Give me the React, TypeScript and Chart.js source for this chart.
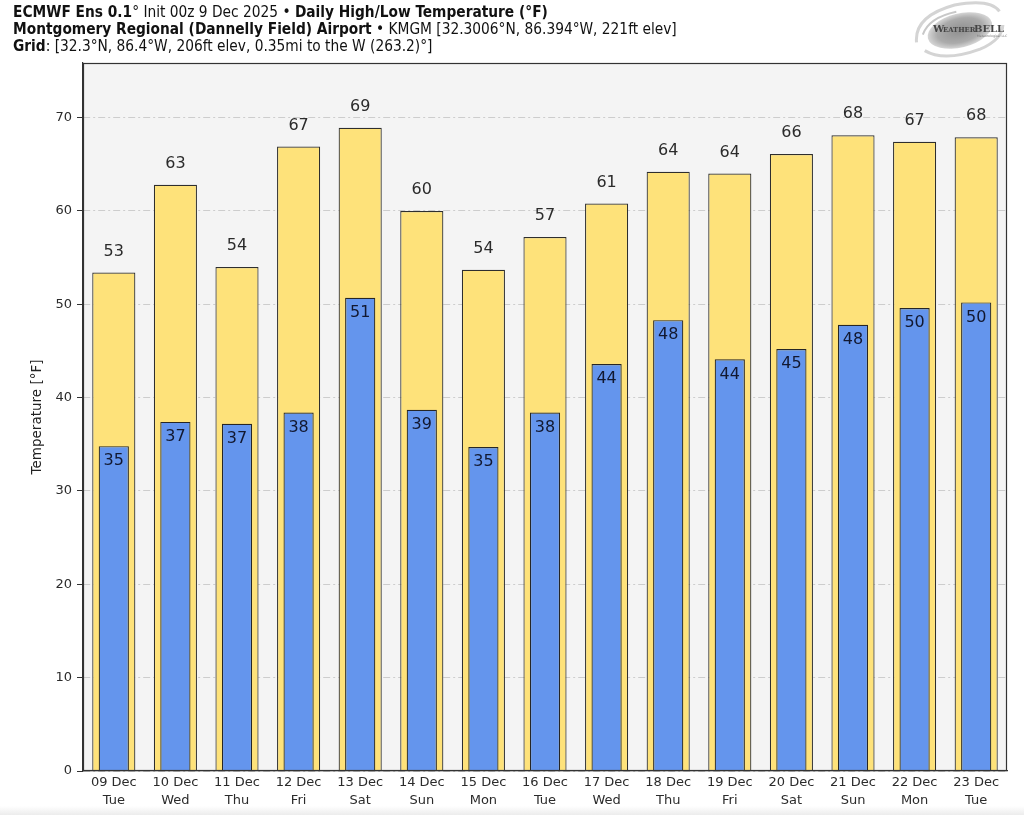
import React, { useEffect, useRef } from "react";
import { Chart, registerables } from "chart.js";

Chart.register(...registerables);

const dates = ["09 Dec", "10 Dec", "11 Dec", "12 Dec", "13 Dec", "14 Dec", "15 Dec", "16 Dec", "17 Dec", "18 Dec", "19 Dec", "20 Dec", "21 Dec", "22 Dec", "23 Dec"];
const weekdays = ["Tue", "Wed", "Thu", "Fri", "Sat", "Sun", "Mon", "Tue", "Wed", "Thu", "Fri", "Sat", "Sun", "Mon", "Tue"];
const highs = [53.4, 62.8, 54.0, 66.9, 68.9, 60.0, 53.7, 57.2, 60.8, 64.2, 64.0, 66.1, 68.1, 67.4, 67.9];
const lows = [34.8, 37.4, 37.2, 38.4, 50.7, 38.7, 34.7, 38.4, 43.6, 48.3, 44.1, 45.2, 47.8, 49.6, 50.2];
const yTicks = [0, 10, 20, 30, 40, 50, 60, 70];

const FONT = "'DejaVu Sans', sans-serif";
const TITLE_FONT = "'DejaVu Sans Condensed', 'DejaVu Sans', sans-serif";

const framePlugin = {
  id: "frame",
  beforeDraw(chart: any) {
    const { ctx, chartArea: a } = chart;
    ctx.save();
    ctx.fillStyle = "#f4f4f4";
    ctx.fillRect(a.left, a.top, a.right - a.left, a.bottom - a.top);
    ctx.restore();
  },
  afterDraw(chart: any) {
    const { ctx, chartArea: a } = chart;
    ctx.save();
    ctx.strokeStyle = "#333";
    ctx.lineWidth = 1.2;
    ctx.strokeRect(a.left + 0.5, a.top + 0.5, a.right - a.left - 1, a.bottom - a.top - 1);
    ctx.restore();
  },
};

const labelPlugin = {
  id: "valueLabels",
  afterDatasetsDraw(chart: any) {
    const { ctx } = chart;
    ctx.save();
    ctx.font = `16px ${FONT}`;
    ctx.textAlign = "center";
    ctx.textBaseline = "middle";
    chart.data.datasets.forEach((ds: any, i: number) => {
      const meta = chart.getDatasetMeta(i);
      meta.data.forEach((el: any, j: number) => {
        const v = Math.round(ds.data[j]);
        if (ds.label === "High") {
          ctx.fillStyle = "#2b2b2b";
          ctx.fillText(String(v), el.x, el.y - 21);
        } else {
          ctx.fillStyle = "#121830";
          ctx.fillText(String(v), el.x, el.y + 15);
        }
      });
    });
    ctx.restore();
  },
};

function Logo() {
  return (
    <svg width="112" height="60" viewBox="0 0 112 60" style={{ position: "absolute", left: 903, top: 0 }}>
      <defs>
        <radialGradient id="lg" cx="50%" cy="50%" r="50%">
          <stop offset="0%" stopColor="#8f8f8f" />
          <stop offset="70%" stopColor="#ababab" />
          <stop offset="100%" stopColor="#d6d6d6" />
        </radialGradient>
      </defs>
      <g transform="rotate(-14 55 31)">
        <path d="M12 32 Q16 6 58 5 Q94 7 100 22" fill="none" stroke="#d4d4d4" strokeWidth="3" />
        <path d="M18 42 Q34 58 72 54 Q96 50 100 36" fill="none" stroke="#d4d4d4" strokeWidth="3" />
        <path d="M20 26 Q30 11 58 12" fill="none" stroke="#c8c8c8" strokeWidth="2" />
        <ellipse cx="57" cy="31" rx="33" ry="17" fill="url(#lg)" />
      </g>
      <text x="30" y="32" fontFamily="'DejaVu Serif', serif" fontWeight="bold" fontSize="10" fill="#444">W</text>
      <text x="40" y="32" fontFamily="'DejaVu Serif', serif" fontWeight="bold" fontSize="6.8" fill="#444">EATHER</text>
      <text x="71" y="32" fontFamily="'DejaVu Serif', serif" fontWeight="bold" fontSize="10" fill="#444">BELL</text>
      <text x="74" y="37" fontFamily="'DejaVu Sans', sans-serif" fontSize="3.2" fill="#777">Meteorological LLC</text>
    </svg>
  );
}

export default function App() {
  const ref = useRef<HTMLCanvasElement | null>(null);

  useEffect(() => {
    if (!ref.current) return;
    const chart = new Chart(ref.current, {
      type: "bar",
      data: {
        labels: dates.map((d, i) => [d, weekdays[i]]),
        datasets: [
          {
            label: "Low",
            data: lows,
            backgroundColor: "#6495ed",
            borderColor: "#262626",
            borderWidth: 1.2,
            barPercentage: 0.49,
            categoryPercentage: 1,
            grouped: false,
            order: 0,
          },
          {
            label: "High",
            data: highs,
            backgroundColor: "#fee27a",
            borderColor: "#2e2e2e",
            borderWidth: 1.2,
            barPercentage: 0.7,
            categoryPercentage: 1,
            grouped: false,
            order: 1,
          },
        ],
      },
      options: {
        animation: false,
        responsive: false,
        devicePixelRatio: 1,
        layout: { padding: { top: 63, right: 17, left: 0, bottom: 0 } },
        plugins: { legend: { display: false }, tooltip: { enabled: false }, title: { display: false } },
        scales: {
          x: {
            grid: { display: false, drawTicks: false, tickLength: 0 },
            border: { display: true, color: "#333", width: 1.2 },
            ticks: {
              color: "#2b2b2b",
              font: { family: FONT, size: 13, lineHeight: 1.35 },
              padding: 3,
              maxRotation: 0,
              autoSkip: false,
            },
            afterFit: (s: any) => {
              s.height = 44;
            },
          },
          y: {
            min: 0,
            max: 75.85,
            afterBuildTicks: (s: any) => {
              s.ticks = yTicks.map((v) => ({ value: v }));
            },
            grid: {
              color: "#cdcdcd",
              lineWidth: 1,
              tickColor: "#333",
              tickBorderDash: [],
              tickLength: 6,
            },
            border: { display: true, color: "#333", width: 1.2, dash: [7, 3, 2, 3] },
            ticks: {
              color: "#2b2b2b",
              font: { family: FONT, size: 13 },
              padding: 5,
            },
            title: {
              display: true,
              text: "Temperature [°F]",
              color: "#222",
              font: { family: FONT, size: 13.5 },
              padding: { top: 29, bottom: 0 },
            },
            afterFit: (s: any) => {
              s.width = 83;
            },
          },
        },
      },
      plugins: [framePlugin, labelPlugin],
    });
    return () => chart.destroy();
  }, []);

  const line: React.CSSProperties = { position: "absolute", left: 13, whiteSpace: "nowrap", fontFamily: TITLE_FONT, fontSize: 15.3, color: "#111", lineHeight: "17px" };

  return (
    <div style={{ position: "absolute", left: 0, top: 0, width: 1024, height: 815, background: "#fff", overflow: "hidden" }}>
      <div style={{ position: "absolute", left: 0, top: 806, width: 1024, height: 9, background: "linear-gradient(#ffffff, #ececec)" }} />
      <canvas ref={ref} width={1024} height={815} style={{ position: "absolute", left: 0, top: 0, width: 1024, height: 815 }} />
      <div style={{ ...line, top: 4 }}>
        <b>ECMWF Ens 0.1</b>° Init 00z 9 Dec 2025 • <b>Daily High/Low Temperature (°F)</b>
      </div>
      <div style={{ ...line, top: 21 }}>
        <b>Montgomery Regional (Dannelly Field) Airport</b> • KMGM [32.3006°N, 86.394°W, 221ft elev]
      </div>
      <div style={{ ...line, top: 38 }}>
        <b>Grid</b>: [32.3°N, 86.4°W, 206ft elev, 0.35mi to the W (263.2)°]
      </div>
      <Logo />
    </div>
  );
}
